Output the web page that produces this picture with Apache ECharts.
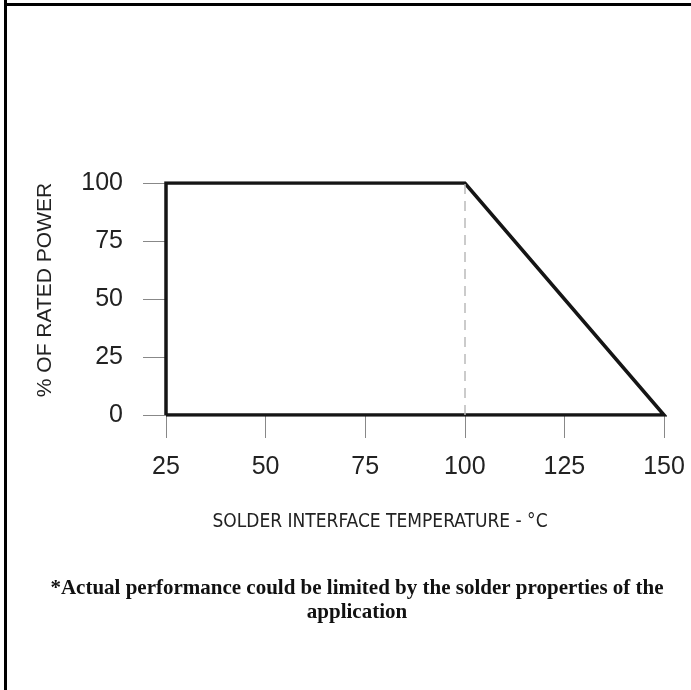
<!DOCTYPE html>
<html>
<head>
<meta charset="utf-8">
<script src="https://cdn.jsdelivr.net/npm/echarts@6/dist/echarts.min.js"></script>
<style>
  html, body { margin: 0; padding: 0; background: #fff; }
  #chart { width: 691px; height: 690px; }
</style>
</head>
<body>
<div id="chart"></div>
<script>
// derating curve: temperature (°C) vs % of rated power, drawn as a closed outline
let temps = [25, 25, 100, 150, 25]
let power = [0, 100, 100, 0, 0]
let kneeTemp = 100
let xTicks = [25, 50, 75, 100, 125, 150]
let yTicks = [0, 25, 50, 75, 100]

let outline = temps.map((t, i) => [t, power[i]])

let myChart = echarts.init(document.getElementById('chart'))
myChart.setOption({
  animation: false,
  grid: {
    left: 166,
    right: 27,
    top: 183,
    bottom: 275
  },
  xAxis: {
    type: 'value',
    min: xTicks[0],
    max: xTicks[xTicks.length - 1],
    interval: 25,
    axisLine: { show: false },
    axisTick: {
      length: 23,
      lineStyle: { color: '#888', width: 1 }
    },
    axisLabel: {
      margin: 40,
      fontSize: 25,
      color: '#222',
      fontFamily: 'Liberation Sans, Arial, sans-serif'
    },
    splitLine: { show: false }
  },
  yAxis: {
    type: 'value',
    min: yTicks[0],
    max: yTicks[yTicks.length - 1],
    interval: 25,
    axisLine: { show: false },
    axisTick: {
      length: 23,
      lineStyle: { color: '#888', width: 1 }
    },
    axisLabel: {
      margin: 43,
      fontSize: 25,
      color: '#222',
      fontFamily: 'Liberation Sans, Arial, sans-serif'
    },
    splitLine: { show: false }
  },
  graphic: [
    {
      type: 'line',
      shape: { x1: 5.5, y1: 0, x2: 5.5, y2: 690 },
      style: { stroke: '#000', lineWidth: 3 }
    },
    {
      type: 'line',
      shape: { x1: 4, y1: 4.5, x2: 691, y2: 4.5 },
      style: { stroke: '#000', lineWidth: 3 }
    },
    {
      // y axis title
      type: 'text',
      x: 45,
      y: 290,
      rotation: Math.PI / 2,
      style: {
        text: '% OF RATED POWER',
        align: 'center',
        verticalAlign: 'middle',
        fontSize: 21,
        fill: '#222',
        fontFamily: 'Liberation Sans, Arial, sans-serif'
      }
    },
    {
      // x axis title
      type: 'text',
      x: 380,
      y: 522,
      style: {
        text: 'SOLDER INTERFACE TEMPERATURE - °C',
        align: 'center',
        verticalAlign: 'middle',
        fontSize: 19,
        fill: '#222',
        fontFamily: 'Liberation Sans Narrow, DejaVu Sans Condensed, Arial, sans-serif'
      }
    },
    {
      type: 'text',
      x: 357,
      y: 577,
      style: {
        text: '*Actual performance could be limited by the solder properties of the\napplication',
        align: 'center',
        fontSize: 21,
        lineHeight: 24,
        fontWeight: 'bold',
        fill: '#111',
        fontFamily: 'Liberation Serif, Times New Roman, serif'
      }
    }
  ],
  series: [
    {
      type: 'line',
      data: outline,
      symbol: 'none',
      lineStyle: { color: '#151515', width: 3.5, join: 'miter' },
      markLine: {
        silent: true,
        symbol: 'none',
        label: { show: false },
        lineStyle: { color: '#bbb', width: 1.5, type: [10, 7] },
        data: [{ xAxis: kneeTemp }]
      },
      z: 3
    }
  ]
})
</script>
</body>
</html>
